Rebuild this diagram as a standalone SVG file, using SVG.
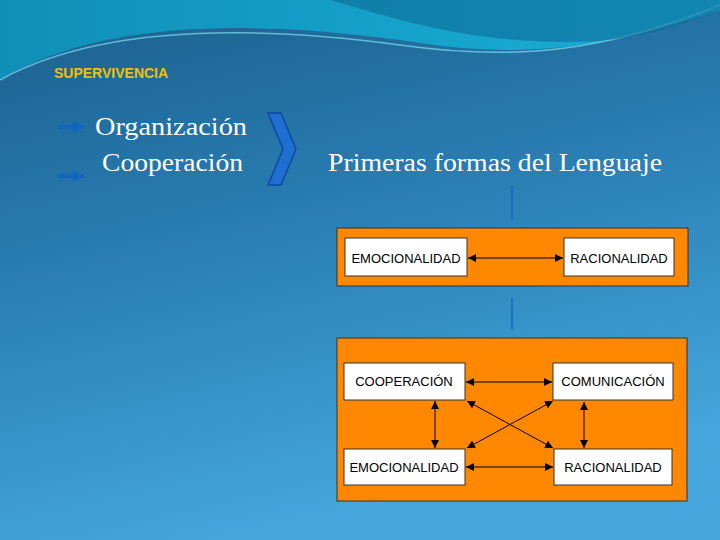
<svg xmlns="http://www.w3.org/2000/svg" width="720" height="540" viewBox="0 0 720 540">
<defs>
<linearGradient id="bg" x1="0" y1="0" x2="0.3" y2="1">
<stop offset="0" stop-color="#1a5f8c"/><stop offset="0.5" stop-color="#2a7fb5"/><stop offset="1" stop-color="#44a6dc"/>
</linearGradient>
<linearGradient id="wave" x1="0" y1="0" x2="1" y2="0">
<stop offset="0" stop-color="#0f8fb8"/><stop offset="1" stop-color="#1ab0d8"/>
</linearGradient>
<marker id="ah" viewBox="0 0 10 10" refX="10" refY="5" markerWidth="8" markerHeight="8" markerUnits="userSpaceOnUse" orient="auto-start-reverse"><path d="M0,0L10,5L0,10z" fill="#000"/></marker>
<marker id="bh" viewBox="0 0 10 10" refX="9" refY="5" markerWidth="3" markerHeight="3" orient="auto"><path d="M0,0L10,5L0,10z" fill="#1565c0"/></marker>
<style>
.box{fill:#fff;stroke:#333;stroke-width:1}
.lbl{font-family:"Liberation Sans",Arial,sans-serif;font-size:13px;fill:#000;text-anchor:middle}
.c{stroke:#000;stroke-width:1;fill:none;marker-start:url(#ah);marker-end:url(#ah)}
.serif{font-family:"Liberation Serif","Times New Roman",serif;font-size:25px;fill:#fff}
</style>
</defs>
<rect width="720" height="540" fill="url(#bg)"/>
<path d="M0,0H720V10C600,50 520,60 400,40C250,20 100,20 0,80Z" fill="url(#wave)"/>
<path d="M0,80C100,25 250,25 400,45C520,62 610,50 720,5" stroke="#7fe0f0" stroke-width="1.5" fill="none" opacity="0.7"/>
<path d="M330,0C400,20 460,40 560,42C640,44 690,20 720,10V0Z" fill="#0e6a98" opacity="0.6"/>
<text x="54" y="78" font-family="Liberation Sans,Arial,sans-serif" font-weight="bold" font-size="14" fill="#f5c000">SUPERVIVENCIA</text>
<g id="left">
<line x1="58" y1="127" x2="84" y2="127" stroke="#1565c0" stroke-width="4" marker-end="url(#bh)"/>
<line x1="58" y1="176" x2="84" y2="176" stroke="#1565c0" stroke-width="4" marker-end="url(#bh)"/>
<text x="95" y="135" class="serif" textLength="152" lengthAdjust="spacingAndGlyphs">Organización</text>
<text x="102" y="171" class="serif" textLength="141" lengthAdjust="spacingAndGlyphs">Cooperación</text>
<path d="M268,113L281,113L296,149L281,185L268,185L283,149Z" fill="#1e6fd0" stroke="#0d47a1" stroke-width="1.5"/>
<text x="328" y="171" class="serif" textLength="334" lengthAdjust="spacingAndGlyphs">Primeras formas del Lenguaje</text>
</g>
<g id="connectors">
<line x1="512" y1="186" x2="512" y2="220" stroke="#1565c0" stroke-width="1.5"/>
<line x1="512" y1="298" x2="512" y2="330" stroke="#1565c0" stroke-width="1.5"/>
</g>
<g id="panel1">
<rect x="337" y="228" width="351" height="58" fill="#ff8800" stroke="#333"/>
<rect x="345" y="238" width="122" height="38" class="box"/>
<text x="406" y="263" class="lbl">EMOCIONALIDAD</text>
<rect x="564" y="238" width="110" height="38" class="box"/>
<text x="619" y="263" class="lbl">RACIONALIDAD</text>
<line x1="468" y1="258" x2="563" y2="258" class="c"/>
</g>
<g id="panel2">
<rect x="337" y="338" width="350" height="163" fill="#ff8800" stroke="#333"/>
<rect x="344" y="363" width="121" height="37" class="box"/>
<text x="404" y="386" class="lbl">COOPERACIÓN</text>
<rect x="553" y="363" width="120" height="37" class="box"/>
<text x="613" y="386" class="lbl">COMUNICACIÓN</text>
<rect x="344" y="449" width="121" height="36" class="box"/>
<text x="404" y="472" class="lbl">EMOCIONALIDAD</text>
<rect x="554" y="449" width="118" height="36" class="box"/>
<text x="613" y="472" class="lbl">RACIONALIDAD</text>
<line x1="466" y1="382" x2="552" y2="382" class="c"/>
<line x1="466" y1="467" x2="553" y2="467" class="c"/>
<line x1="435" y1="401" x2="435" y2="448" class="c"/>
<line x1="584" y1="402" x2="584" y2="448" class="c"/>
<line x1="467" y1="401" x2="553" y2="448" class="c"/>
<line x1="553" y1="401" x2="467" y2="448" class="c"/>
</g>
</svg>
